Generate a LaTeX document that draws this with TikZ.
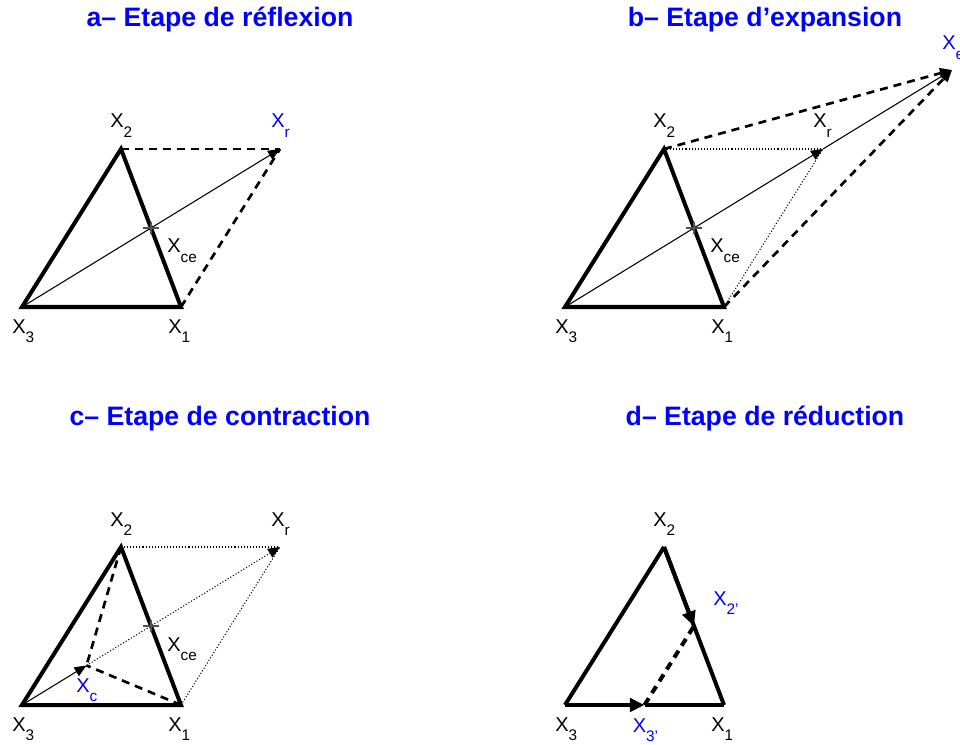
\documentclass[tikz,border=0pt]{standalone}
\usepackage{fontspec}
\setmainfont{Liberation Sans}
\usetikzlibrary{arrows.meta,calc}
\definecolor{labblue}{HTML}{0000FF}
\definecolor{crossgray}{HTML}{505050}
\newcommand{\lbl}[1]{X\raisebox{-7pt}{\fontsize{11.5}{12}\selectfont #1}}
\newcommand{\croix}[1]{%
  \draw[crossgray, line width=0.8pt] ($(#1)+(-8,0)$) -- ($(#1)+(8,0)$);
  \draw[crossgray, line width=0.8pt] ($(#1)+(0,-6)$) -- ($(#1)+(0,6)$);
}

\begin{document}
\begin{tikzpicture}[x=0.75pt,y=-0.75pt,
  titre/.style={font=\fontsize{20}{20}\selectfont\bfseries, text=labblue, anchor=base, inner sep=0pt},
  lab/.style={font=\fontsize{15}{16}\selectfont, anchor=base west, inner sep=0pt},
  bleu/.style={lab, text=labblue},
  bord/.style={line width=3pt, line join=miter},
  trait/.style={line width=0.8pt},
  tiret/.style={line width=2pt, dash pattern=on 6pt off 4.5pt},
  pointille/.style={line width=0.8pt, dash pattern=on 0.8pt off 1.5pt},
  fleche/.style={-{Triangle[length=9pt,width=7.5pt]}},
  grossefleche/.style={-{Triangle[length=11pt,width=10pt]}}]
  \useasboundingbox (0,0) rectangle (960,745);

  % a- reflexion
  \node[titre] (ta) at (220,27) {a-- Etape de réflexion};
  \begin{scope}[shift={(22,307)}]
    \coordinate (a3) at (0,0);
    \coordinate (a1) at (159,0);
    \coordinate (a2) at (99,-158);
    \coordinate (ace) at (129,-79);
    \coordinate (ar) at (258,-158);
  \end{scope}
  \draw[tiret] (a2) -- (ar);
  \draw[tiret] (a1) -- (ar);
  \draw[trait, fleche] (a3) -- (ar);
  \draw[bord] (a3) -- (a1) -- (a2) -- cycle;
  \croix{ace}
  \node[lab] (la1) at ($(a1)+(-13,26)$) {\lbl{1}};
  \node[lab] (la2) at ($(a2)+(-11,-21)$) {\lbl{2}};
  \node[lab] (la3) at ($(a3)+(-10,26)$) {\lbl{3}};
  \node[lab] (lace) at ($(ace)+(16,25)$) {\lbl{ce}};
  \node[bleu] (lar) at ($(ar)+(-9,-21)$) {\lbl{r}};

  % b- expansion
  \node[titre] (tb) at (765,27) {b-- Etape d'expansion};
  \begin{scope}[shift={(565,307)}]
    \coordinate (b3) at (0,0);
    \coordinate (b1) at (159,0);
    \coordinate (b2) at (99,-158);
    \coordinate (bce) at (129,-79);
    \coordinate (br) at (258,-158);
    \coordinate (be) at (387,-237);
  \end{scope}
  \draw[pointille] (b2) -- (br);
  \draw[pointille] (b1) -- (br);
  \draw[tiret, fleche] (b2) -- (be);
  \draw[tiret, fleche] (b1) -- (be);
  \draw[trait, fleche] (b3) -- (br);
  \draw[trait, fleche] (br) -- (be);
  \draw[bord] (b3) -- (b1) -- (b2) -- cycle;
  \croix{bce}
  \node[lab] (lb1) at ($(b1)+(-13,26)$) {\lbl{1}};
  \node[lab] (lb2) at ($(b2)+(-11,-21)$) {\lbl{2}};
  \node[lab] (lb3) at ($(b3)+(-10,26)$) {\lbl{3}};
  \node[lab] (lbce) at ($(bce)+(16,25)$) {\lbl{ce}};
  \node[lab] (lbr) at ($(br)+(-10,-21)$) {\lbl{r}};
  \node[bleu] (lbe) at ($(be)+(-10,-20)$) {\lbl{e}};

  % c- contraction
  \node[titre] (tc) at (220,425) {c-- Etape de contraction};
  \begin{scope}[shift={(22,705)}]
    \coordinate (c3) at (0,0);
    \coordinate (c1) at (159,0);
    \coordinate (c2) at (99,-158);
    \coordinate (cce) at (129,-79);
    \coordinate (cr) at (258,-158);
    \coordinate (cc) at (64.5,-39.5);
  \end{scope}
  \draw[pointille] (c2) -- (cr);
  \draw[pointille] (c1) -- (cr);
  \draw[pointille, fleche] (cc) -- (cr);
  \draw[tiret] (c2) -- (cc);
  \draw[tiret] (c1) -- (cc);
  \draw[trait, fleche] (c3) -- (cc);
  \draw[bord] (c3) -- (c1) -- (c2) -- cycle;
  \croix{cce}
  \node[lab] (lc1) at ($(c1)+(-13,26)$) {\lbl{1}};
  \node[lab] (lc2) at ($(c2)+(-11,-21)$) {\lbl{2}};
  \node[lab] (lc3) at ($(c3)+(-10,26)$) {\lbl{3}};
  \node[lab] (lcce) at ($(cce)+(16,25)$) {\lbl{ce}};
  \node[lab] (lcr) at ($(cr)+(-9,-21)$) {\lbl{r}};
  \node[bleu] (lcc) at ($(cc)+(-10.5,26.5)$) {\lbl{c}};

  % d- reduction
  \node[titre] (td) at (765,425) {d-- Etape de réduction};
  \begin{scope}[shift={(565,705)}]
    \coordinate (d3) at (0,0);
    \coordinate (d1) at (159,0);
    \coordinate (d2) at (99,-158);
    \coordinate (dd2) at (129,-79);
    \coordinate (dd3) at (79.5,0);
  \end{scope}
  \draw[bord] (d1) -- (d2);
  \draw[bord] (d2) -- (d3);
  \draw[bord] (dd3) -- (d1);
  \draw[bord, grossefleche] (d3) -- (dd3);
  \draw[bord, grossefleche] (d2) -- (dd2);
  \draw[tiret, line width=3pt] (dd3) -- (dd2);
  \node[lab] (ld1) at ($(d1)+(-13,26)$) {\lbl{1}};
  \node[lab] (ld2) at ($(d2)+(-11,-21)$) {\lbl{2}};
  \node[lab] (ld3) at ($(d3)+(-10,26)$) {\lbl{3}};
  \node[bleu] (ldd2) at ($(dd2)+(19,-21)$) {\lbl{2'}};
  \node[bleu] (ldd3) at ($(dd3)+(-12,27)$) {\lbl{3'}};
\end{tikzpicture}
\end{document}
